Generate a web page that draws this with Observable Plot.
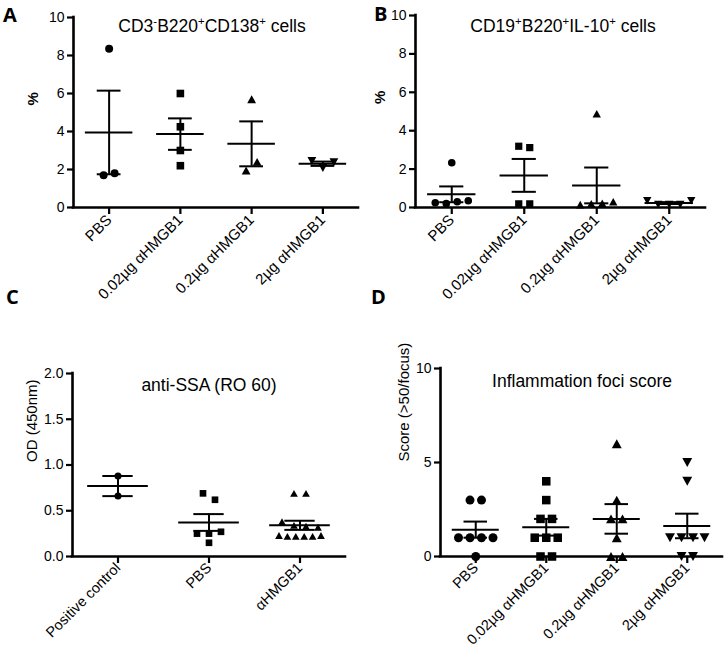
<!DOCTYPE html>
<html><head><meta charset="utf-8">
<script src="https://cdn.jsdelivr.net/npm/d3@7"></script>
<script src="https://cdn.jsdelivr.net/npm/@observablehq/plot@0.6"></script>
<style>
html,body{margin:0;padding:0;background:#fff;}
#fig{position:relative;width:725px;height:648px;overflow:hidden;font-family:'Liberation Sans',Arial,sans-serif;}
#fig > svg{position:absolute;overflow:visible;}
</style></head><body><div id="fig"></div>
<script>
// ---------- data ----------
const catsA = ["PBS", "0.02µg αHMGB1", "0.2µg αHMGB1", "2µg αHMGB1"];
const valsA_PBS = [8.35, 1.7, 1.8];
const valsA_002 = [6.0, 4.25, 3.0, 2.2];
const valsA_02 = [5.7, 1.95, 2.4];
const valsA_2 = [2.45, 2.08, 2.38];
const yTicksA = [0, 2, 4, 6, 8, 10];

const catsB = ["PBS", "0.02µg αHMGB1", "0.2µg αHMGB1", "2µg αHMGB1"];
const valsB_PBS = [2.33, 0.25, 0.2, 0.3, 0.35];
const valsB_002 = [3.19, 3.12, 0.19, 0.19];
const valsB_02 = [4.88, 0.15, 0.2, 0.22, 0.3];
const valsB_2 = [0.35, 0.15, 0.15, 0.15, 0.35];
const yTicksB = [0, 2, 4, 6, 8, 10];

const catsC = ["Positive control", "PBS", "αHMGB1"];
const valsC_pos = [0.88, 0.66];
const valsC_PBS = [0.69, 0.62, 0.25, 0.15, 0.25, 0.27];
const valsC_ab = [0.69, 0.69, 0.38, 0.34, 0.33, 0.32, 0.23, 0.22, 0.22, 0.22, 0.22, 0.23];
const yTicksC = [0, 0.5, 1.0, 1.5, 2.0];

const catsD = ["PBS", "0.02µg αHMGB1", "0.2µg αHMGB1", "2µg αHMGB1"];
const valsD_PBS = [3, 3, 1, 1, 1, 1, 0];
const valsD_002 = [4, 3, 2, 2, 1, 1, 1, 0, 0];
const valsD_02 = [6, 3, 2, 2, 1, 0, 0];
const valsD_2 = [5, 4, 1, 1, 1, 1, 0, 0];
const yTicksD = [0, 5, 10];

// ---------- symbols ----------
const symCircle = {draw(ctx, size) { const r = Math.sqrt(size / Math.PI); ctx.moveTo(r, 0); ctx.arc(0, 0, r, 0, 2 * Math.PI); ctx.closePath(); }};
const symSquare = {draw(ctx, size) { const r = Math.sqrt(size / Math.PI) * 0.95; ctx.rect(-r, -r, 2 * r, 2 * r); }};
const symTriUp = {draw(ctx, size) { const r = Math.sqrt(size / Math.PI) * 1.1; const h = r * 0.9; ctx.moveTo(0, -h); ctx.lineTo(r, h); ctx.lineTo(-r, h); ctx.closePath(); }};
const symTriDown = {draw(ctx, size) { const r = Math.sqrt(size / Math.PI) * 1.1; const h = r * 0.9; ctx.moveTo(0, h); ctx.lineTo(r, -h); ctx.lineTo(-r, -h); ctx.closePath(); }};

const FONT = "'Liberation Sans', Arial, sans-serif";
const fig = document.getElementById("fig");

function panel(o) {
  const {cats, vals, symbols, yMax, yTicks, tickFmt, left, top, width, height, m, r, sp, maxSpan, ylabel, ylabelBold, ylx, yly, xfs, xpad} = o;
  const [mt, mr, mb, ml] = m;
  const n = cats.length;
  const fw = width - ml - mr, fh = height - mt - mb;
  const band = fw / n, ppu = fh / yMax;
  const points = [], stats = [];
  vals.forEach((vs, i) => {
    const order = d3.range(vs.length).sort((a, b) => vs[b] - vs[a] || a - b);
    const rows = [];
    for (const j of order) {
      const row = rows[rows.length - 1];
      if (row && (vs[row[0]] - vs[j]) * ppu < 10) row.push(j); else rows.push([j]);
    }
    for (const row of rows) {
      row.sort((a, b) => a - b);
      const k = row.length;
      const s = k > 1 ? Math.min(sp, maxSpan / (k - 1)) : 0;
      row.forEach((j, q) => points.push({g: i, v: vs[j], x: i + (q - (k - 1) / 2) * s / band}));
    }
    const mean = d3.mean(vs), sem = d3.deviation(vs) / Math.sqrt(vs.length);
    stats.push({i, mean, lo: mean - sem, hi: mean + sem});
  });
  const svg = Plot.plot({
    width, height,
    marginTop: mt, marginRight: mr, marginBottom: mb, marginLeft: ml,
    style: {fontFamily: FONT, fontSize: "14px", color: "#000", background: "transparent", overflow: "visible"},
    x: {type: "linear", domain: [-0.5, n - 0.5], axis: null},
    y: {domain: [0, yMax], axis: null},
    marks: [
      Plot.axisY(yTicks, {tickSize: 6, tickPadding: 3, fontSize: 14, strokeWidth: 2.2, label: null, tickFormat: tickFmt}),
      Plot.axisX(d3.range(n), {tickSize: 7, tickPadding: xpad, tickRotate: -45, fontSize: xfs, strokeWidth: 2.2, label: null, tickFormat: i => cats[i]}),
      Plot.ruleX([-0.5], {stroke: "#000", strokeWidth: 2.6, strokeLinecap: "square"}),
      Plot.ruleY([0], {stroke: "#000", strokeWidth: 2.6, strokeLinecap: "square"}),
      ...d3.range(n).map(i => Plot.dot(points.filter(p => p.g === i), {x: "x", y: "v", r, symbol: symbols[i], fill: "#000", stroke: "none"})),
      Plot.ruleX(stats, {x: "i", y1: "lo", y2: "hi", stroke: "#000", strokeWidth: 2}),
      Plot.ruleY(stats, {y: "mean", x1: d => d.i - 1 / 3, x2: d => d.i + 1 / 3, stroke: "#000", strokeWidth: 2}),
      Plot.ruleY(stats, {y: "hi", x1: d => d.i - 1 / 6, x2: d => d.i + 1 / 6, stroke: "#000", strokeWidth: 2}),
      Plot.ruleY(stats, {y: "lo", x1: d => d.i - 1 / 6, x2: d => d.i + 1 / 6, stroke: "#000", strokeWidth: 2}),
      Plot.text([ylabel], {frameAnchor: "left", dx: ylx, dy: yly, rotate: -90, fontSize: 15, fontWeight: ylabelBold ? "bold" : "normal", fill: "#000"})
    ]
  });
  svg.style.left = left + "px";
  svg.style.top = top + "px";
  fig.appendChild(svg);
}

const sym4 = [symCircle, symSquare, symTriUp, symTriDown];
const intFmt = d => String(d);

panel({cats: catsA, vals: [valsA_PBS, valsA_002, valsA_02, valsA_2], symbols: sym4, yMax: 10, yTicks: yTicksA, tickFmt: intFmt,
  left: 0, top: 0, width: 362, height: 310, m: [17, 4, 103, 73], r: 4, sp: 11, maxSpan: 55, ylabel: "%", ylabelBold: true, ylx: -40.5, yly: -7, xfs: 15, xpad: 3});
panel({cats: catsB, vals: [valsB_PBS, valsB_002, valsB_02, valsB_2], symbols: sym4, yMax: 10, yTicks: yTicksB, tickFmt: intFmt,
  left: 362, top: 0, width: 363, height: 310, m: [15, 20, 103, 53], r: 3.8, sp: 11, maxSpan: 55, ylabel: "%", ylabelBold: true, ylx: -35.5, yly: -7.5, xfs: 15, xpad: 3});
panel({cats: catsC, vals: [valsC_pos, valsC_PBS, valsC_ab], symbols: [symCircle, symSquare, symTriUp], yMax: 2, yTicks: yTicksC, tickFmt: d => d.toFixed(1),
  left: 0, top: 310, width: 362, height: 338, m: [63, 17, 92, 72], r: 3.5, sp: 12, maxSpan: 42, ylabel: "OD (450nm)", ylabelBold: false, ylx: -40.5, yly: -3, xfs: 14.5, xpad: 2});
panel({cats: catsD, vals: [valsD_PBS, valsD_002, valsD_02, valsD_2], symbols: sym4, yMax: 10, yTicks: yTicksD, tickFmt: intFmt,
  left: 362, top: 310, width: 363, height: 338, m: [58, 3, 92, 78], r: 4.5, sp: 11.5, maxSpan: 60, ylabel: "Score (>50/focus)", ylabelBold: false, ylx: -36.5, yly: -1, xfs: 14.5, xpad: 2});

// ---------- titles and panel letters ----------
const NS = "http://www.w3.org/2000/svg";
const ov = document.createElementNS(NS, "svg");
ov.setAttribute("width", 725); ov.setAttribute("height", 648);
ov.style.left = "0px"; ov.style.top = "0px"; ov.style.pointerEvents = "none";
fig.appendChild(ov);
function addText(x, y, parts, opts) {
  const t = document.createElementNS(NS, "text");
  t.setAttribute("x", x); t.setAttribute("y", y);
  t.setAttribute("text-anchor", opts.anchor || "middle");
  t.setAttribute("font-family", opts.family || FONT);
  t.setAttribute("font-size", opts.size);
  if (opts.weight) t.setAttribute("font-weight", opts.weight);
  t.setAttribute("fill", "#000");
  let cur = 0;
  for (const p of parts) {
    const s = document.createElementNS(NS, "tspan");
    const isSup = typeof p !== "string";
    const target = isSup ? -opts.size * 0.4 : 0;
    s.textContent = isSup ? p.sup : p;
    if (isSup) s.setAttribute("font-size", opts.size * 0.65);
    if (target !== cur) { s.setAttribute("dy", target - cur); cur = target; }
    t.appendChild(s);
  }
  ov.appendChild(t);
}
addText(212, 32, ["CD3", {sup: "-"}, "B220", {sup: "+"}, "CD138", {sup: "+"}, " cells"], {size: 17.5});
addText(563, 32, ["CD19", {sup: "+"}, "B220", {sup: "+"}, "IL-10", {sup: "+"}, " cells"], {size: 17.5});
addText(209, 391, ["anti-SSA (RO 60)"], {size: 17.5});
addText(582, 387, ["Inflammation foci score"], {size: 17.5});
const LF = "'Open Sans', 'DejaVu Sans', sans-serif";
addText(3, 21.5, ["A"], {size: 20, weight: "bold", anchor: "start", family: LF});
addText(374, 21, ["B"], {size: 20, weight: "bold", anchor: "start", family: LF});
addText(6, 304, ["C"], {size: 20, weight: "bold", anchor: "start", family: LF});
addText(371, 304, ["D"], {size: 20, weight: "bold", anchor: "start", family: LF});
</script>
</body></html>
